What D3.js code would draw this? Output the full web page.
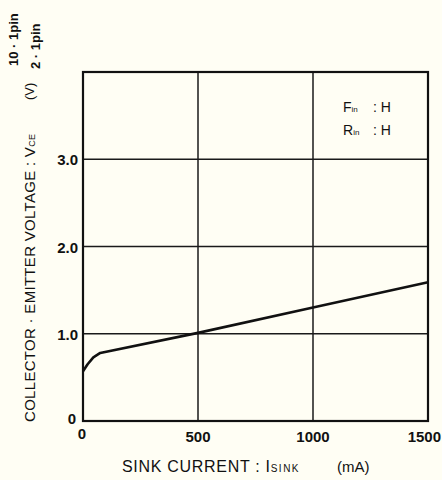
<!DOCTYPE html>
<html>
<head>
<meta charset="utf-8">
<script src="https://cdn.jsdelivr.net/npm/d3@7"></script>
<style>
  body {margin: 0; background: #fffef4;}
  svg text {font-family: "Liberation Sans", Arial, sans-serif; fill: #111;}
</style>
</head>
<body>
<svg id="chart" width="442" height="480"></svg>
<script>
// sink current (mA) vs collector-emitter voltage (V)
var current = [0, 20, 45, 75, 500, 1000, 1500];
var voltage = [0.57, 0.65, 0.73, 0.78, 1.01, 1.30, 1.59];
var xTicks = [0, 500, 1000, 1500];
var xTickLabels = ["0", "500", "1000", "1500"];
var yTicks = [0, 1, 2, 3];
var yTickLabels = ["0", "1.0", "2.0", "3.0"];

var pLeft = 83, pRight = 428, pTop = 72, pBottom = 421;
var svg = d3.select("#chart");

var x = d3.scaleLinear().domain([0, 1500]).range([pLeft, pRight]);
var y = d3.scaleLinear().domain([0, 4]).range([pBottom, pTop]);

// grid lines
svg.selectAll("line.hgrid").data(yTicks.slice(1)).enter().append("line")
  .attr("x1", pLeft).attr("x2", pRight)
  .attr("y1", d => y(d)).attr("y2", d => y(d))
  .attr("stroke", "#1a1a1a").attr("stroke-width", 1.6);
svg.selectAll("line.vgrid").data([500, 1000]).enter().append("line")
  .attr("x1", d => x(d)).attr("x2", d => x(d))
  .attr("y1", pTop).attr("y2", pBottom)
  .attr("stroke", "#1a1a1a").attr("stroke-width", 1.5);

// frame
svg.append("rect").attr("x", pLeft).attr("y", pTop)
  .attr("width", pRight - pLeft).attr("height", pBottom - pTop)
  .attr("fill", "none").attr("stroke", "#111").attr("stroke-width", 2.2);

// curve
var line = d3.line().x((d, i) => x(current[i])).y(d => y(d));
svg.append("path").datum(voltage).attr("d", line)
  .attr("fill", "none").attr("stroke", "#111").attr("stroke-width", 2.6)
  .attr("stroke-linejoin", "round");

// y tick labels
svg.selectAll("text.ytick").data(yTicks).enter().append("text")
  .attr("x", (d, i) => i === 0 ? 76 : 78)
  .attr("y", (d, i) => i === 0 ? y(d) + 3 : y(d) + 6)
  .attr("text-anchor", "end")
  .attr("font-size", 15).attr("font-weight", "bold")
  .text((d, i) => yTickLabels[i]);

// x tick labels (last one pushed in so it stays inside the page)
svg.selectAll("text.xtick").data(xTicks).enter().append("text")
  .attr("x", (d, i) => i === 0 ? x(d) - 1 : (i === 3 ? 441 : x(d)))
  .attr("y", (d, i) => i === 0 ? 439 : 442)
  .attr("text-anchor", (d, i) => i === 3 ? "end" : "middle")
  .attr("font-size", 15).attr("font-weight", "bold")
  .text((d, i) => xTickLabels[i]);

// x axis title
var xt = svg.append("text").attr("x", 122).attr("y", 472)
  .attr("font-size", 16).attr("letter-spacing", 0.7);
xt.append("tspan").text("SINK CURRENT : I");
xt.append("tspan").attr("font-size", 10).attr("letter-spacing", 1.5).text("SINK");
svg.append("text").attr("x", 337).attr("y", 472).attr("font-size", 15).text("(mA)");

// y axis title
var yt = svg.append("text").attr("transform", "translate(35,422) rotate(-90)")
  .attr("font-size", 15).attr("letter-spacing", 0.3);
yt.append("tspan").text("COLLECTOR · EMITTER VOLTAGE : V");
yt.append("tspan").attr("font-size", 9).text("CE");
svg.append("text").attr("transform", "translate(34,100) rotate(-90)")
  .attr("font-size", 13).text("(V)");
svg.append("text").attr("transform", "translate(18,66) rotate(-90)")
  .attr("font-size", 13).attr("font-weight", "bold").text("10 · 1pin");
svg.append("text").attr("transform", "translate(40,69) rotate(-90)")
  .attr("font-size", 13).attr("font-weight", "bold").text("2 · 1pin");

// legend
var legend = [["F", "in"], ["R", "in"]];
legend.forEach(function(l, i) {
  var t = svg.append("text").attr("x", 343).attr("y", 112 + i * 23)
    .attr("font-size", 14);
  t.append("tspan").text(l[0]);
  t.append("tspan").attr("font-size", 8).text(l[1]);
  t.append("tspan").attr("x", 373).text(": H");
});
</script>
</body>
</html>
